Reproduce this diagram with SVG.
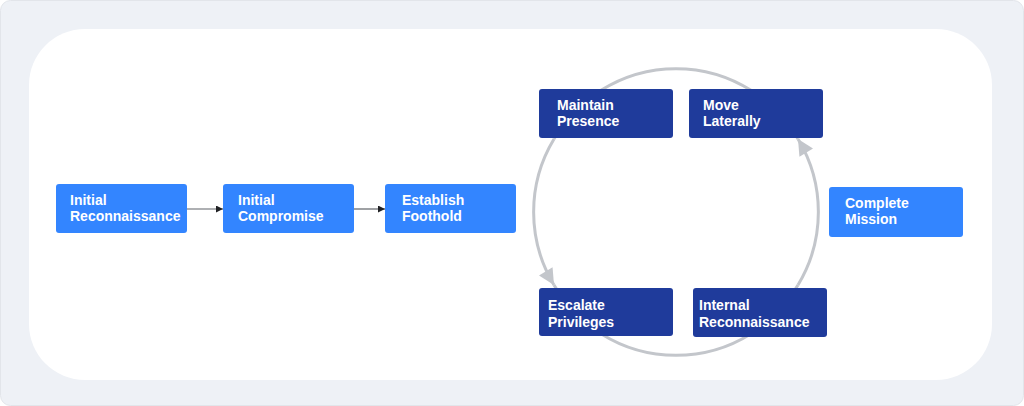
<svg xmlns="http://www.w3.org/2000/svg" width="1024" height="406" viewBox="0 0 1024 406">
<style>
.lt{fill:#3385ff}
.dk{fill:#1f3b9b}
.t{font-family:"Liberation Sans",Arial,sans-serif;font-weight:bold;font-size:14px;fill:#ffffff}
.ring{fill:none;stroke:#c3c6cb;stroke-width:3}
.lnk{fill:none;stroke:#5f6368;stroke-width:1.2}
</style>
<defs>
<marker id="ah" viewBox="0 0 10 10" refX="10" refY="5" markerWidth="7" markerHeight="7" markerUnits="userSpaceOnUse" orient="auto">
<path d="M0,0 L10,5 L0,10 z" fill="#202124"/>
</marker>
<marker id="rh" viewBox="0 0 16 16" refX="16" refY="8" markerWidth="17" markerHeight="16" markerUnits="userSpaceOnUse" orient="auto">
<path d="M0,0 L16,8 L0,16 z" fill="#c3c6cb"/>
</marker>
</defs>
<rect x="0.5" y="0.5" width="1023" height="405" rx="10" fill="#eef1f6" stroke="#e2e5ea"/>
<rect x="29" y="29" width="963" height="351" rx="56" fill="#ffffff"/>
<g id="connectors">
<path class="ring" d="M554,139 A141,141 0 0 1 798,139"/>
<path class="ring" d="M554,285 A141,141 0 0 0 798,285"/>
<path class="ring" d="M554,139 A141,141 0 0 0 554,285" marker-end="url(#rh)"/>
<path class="ring" d="M798,285 A141,141 0 0 0 798,139" marker-end="url(#rh)"/>
<line class="lnk" x1="187" y1="209" x2="223" y2="209" marker-end="url(#ah)"/>
<line class="lnk" x1="354" y1="209" x2="385" y2="209" marker-end="url(#ah)"/>
</g>
<g id="initial-reconnaissance">
<rect class="lt" x="56" y="184" width="131" height="49" rx="3"/>
<text class="t" x="70" y="205">Initial</text>
<text class="t" x="70" y="221">Reconnaissance</text>
</g>
<g id="initial-compromise">
<rect class="lt" x="223" y="184" width="131" height="49" rx="3"/>
<text class="t" x="238" y="205">Initial</text>
<text class="t" x="238" y="221">Compromise</text>
</g>
<g id="establish-foothold">
<rect class="lt" x="385" y="184" width="131" height="49" rx="3"/>
<text class="t" x="402" y="205">Establish</text>
<text class="t" x="402" y="221">Foothold</text>
</g>
<g id="maintain-presence">
<rect class="dk" x="539" y="89" width="134" height="49" rx="3"/>
<text class="t" x="557" y="110">Maintain</text>
<text class="t" x="557" y="126">Presence</text>
</g>
<g id="move-laterally">
<rect class="dk" x="689" y="89" width="134" height="49" rx="3"/>
<text class="t" x="703" y="110">Move</text>
<text class="t" x="703" y="126">Laterally</text>
</g>
<g id="escalate-privileges">
<rect class="dk" x="539" y="288" width="134" height="48" rx="3"/>
<text class="t" x="548" y="310">Escalate</text>
<text class="t" x="548" y="327">Privileges</text>
</g>
<g id="internal-reconnaissance">
<rect class="dk" x="693" y="288" width="134" height="49" rx="3"/>
<text class="t" x="699" y="310">Internal</text>
<text class="t" x="699" y="327">Reconnaissance</text>
</g>
<g id="complete-mission">
<rect class="lt" x="829" y="187" width="134" height="50" rx="3"/>
<text class="t" x="845" y="208">Complete</text>
<text class="t" x="845" y="224">Mission</text>
</g>
</svg>
